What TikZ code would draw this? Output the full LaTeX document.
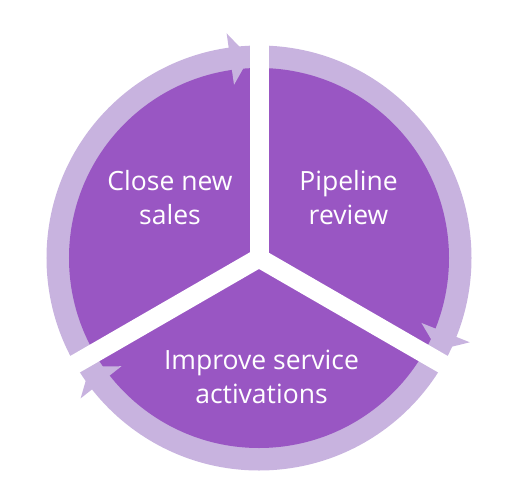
\documentclass[tikz,border=0pt]{standalone}
\usepackage{fontspec}
\setmainfont{Open Sans}
\definecolor{purp}{HTML}{9956C3}
\definecolor{lav}{HTML}{C8B3DF}
\tikzset{
  ringband/.style={fill=lav},
  disk/.style={fill=purp},
  arrhead/.style={fill=lav},
  gapline/.style={draw=white, line width=19pt, line cap=butt},
  lbl/.style={text=white, align=center, inner sep=0pt,
    font=\fontsize{26.5}{34}\selectfont}
}
\begin{document}
\begin{tikzpicture}[x=1pt,y=1pt]
\useasboundingbox (-259,-235) rectangle (251,258);
\coordinate (c) at (0,0);
% ring and disk
\fill[ringband] (c) circle (212.5);
\fill[disk] (c) circle (190);
% arrowheads (clockwise arcs)
\fill[arrhead] (92.7:201) -- (98.2:227) -- (98.2:175) -- cycle;
\fill[arrhead] (-27.3:201) -- (-21.8:227) -- (-21.8:175) -- cycle;
\fill[arrhead] (-147.3:201) -- (-141.8:227) -- (-141.8:175) -- cycle;
% white gaps
\coordinate (g1) at (90:245);
\coordinate (g2) at (-30:245);
\coordinate (g3) at (210:245);
\draw[gapline] (c) -- (g1);
\draw[gapline] (c) -- (g2);
\draw[gapline] (c) -- (g3);
% labels
\node[lbl] (close) at (-89,60) {Close new\\sales};
\node[lbl] (pipe) at (89.5,60) {Pipeline\\review};
\node[lbl] (impr) at (2.5,-119) {Improve service\\activations};
\end{tikzpicture}
\end{document}
